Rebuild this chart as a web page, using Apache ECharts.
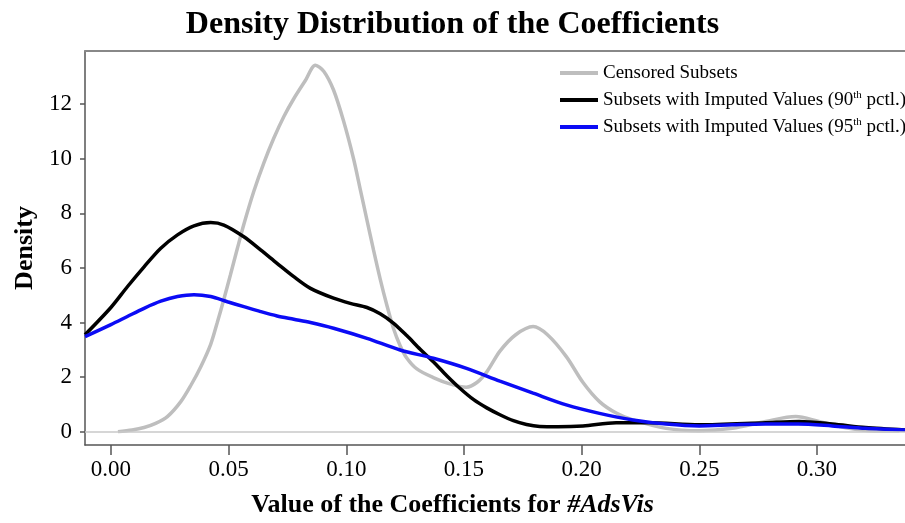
<!DOCTYPE html>
<html>
<head>
<meta charset="utf-8">
<title>Density Distribution of the Coefficients</title>
<script src="https://cdn.jsdelivr.net/npm/echarts@6/dist/echarts.min.js"></script>
<style>
    html, body { margin: 0; padding: 0; background: #fff; }
    #density-chart { width: 905px; height: 523px; }
</style>
</head>
<body>
<div id="density-chart"></div>
<script>
// values, [coefficient, density]
var censored = [
    [0.003, 0], [0.009, 0.06], [0.0141, 0.15], [0.019, 0.3], [0.024, 0.55], [0.0297, 1.1],
    [0.034, 1.7], [0.0382, 2.38], [0.0424, 3.2], [0.0452, 4.0], [0.048, 4.85], [0.0508, 5.75],
    [0.0537, 6.7], [0.0565, 7.6], [0.0607, 8.8], [0.065, 9.85], [0.0692, 10.75],
    [0.0735, 11.55], [0.0777, 12.2], [0.0825, 12.85], [0.0869, 13.43], [0.0905, 13.2],
    [0.0946, 12.52], [0.0988, 11.4], [0.1031, 10.0], [0.1059, 8.9], [0.1088, 7.75],
    [0.1116, 6.65], [0.1144, 5.6], [0.1172, 4.65], [0.12, 3.8], [0.1229, 3.15],
    [0.1257, 2.7], [0.13, 2.3], [0.137, 1.98], [0.144, 1.75], [0.151, 1.63],
    [0.1555, 1.8], [0.1598, 2.2], [0.1653, 2.95], [0.172, 3.55], [0.1794, 3.85],
    [0.1855, 3.55], [0.1935, 2.75], [0.2006, 1.8], [0.2076, 1.1], [0.2147, 0.68],
    [0.2218, 0.43], [0.2359, 0.12], [0.25, 0.03], [0.2641, 0.12], [0.2782, 0.37],
    [0.291, 0.55], [0.3008, 0.37], [0.3136, 0.12], [0.325, 0.02], [0.335, 0.02]
];
var imputed90 = [
    [-0.011, 3.55], [0, 4.55], [0.007, 5.31], [0.0141, 6.04], [0.0212, 6.72], [0.0283, 7.21],
    [0.0353, 7.54], [0.0424, 7.66], [0.048, 7.57], [0.0565, 7.14], [0.0636, 6.66],
    [0.0706, 6.17], [0.0777, 5.68], [0.0848, 5.25], [0.0946, 4.89], [0.1017, 4.7],
    [0.1088, 4.55], [0.1144, 4.32], [0.12, 3.98], [0.1257, 3.52], [0.1314, 3.02],
    [0.137, 2.56], [0.1427, 2.05], [0.1484, 1.58], [0.154, 1.18], [0.1597, 0.87],
    [0.1653, 0.62], [0.171, 0.4], [0.1766, 0.26], [0.1822, 0.19], [0.19, 0.18],
    [0.2006, 0.21], [0.2147, 0.33], [0.2288, 0.33], [0.25, 0.25], [0.2782, 0.33],
    [0.2924, 0.37], [0.3065, 0.28], [0.3206, 0.15], [0.3374, 0.06]
];
var imputed95 = [
    [-0.011, 3.48], [0, 3.92], [0.007, 4.22], [0.0141, 4.52], [0.0212, 4.78], [0.0283, 4.95],
    [0.0353, 5.02], [0.0424, 4.95], [0.0495, 4.76], [0.0565, 4.58], [0.0636, 4.4],
    [0.0706, 4.24], [0.0777, 4.12], [0.0848, 4.0], [0.0946, 3.79], [0.1088, 3.42],
    [0.1229, 2.99], [0.137, 2.69], [0.1511, 2.32], [0.1653, 1.85], [0.1794, 1.41],
    [0.1935, 0.98], [0.2076, 0.67], [0.2218, 0.43], [0.2359, 0.28], [0.25, 0.21],
    [0.264, 0.25], [0.278, 0.28], [0.292, 0.28], [0.3065, 0.21], [0.3206, 0.12],
    [0.3374, 0.06]
];
var seriesNames = [
    'Censored Subsets',
    'Subsets with Imputed Values (90th pctl.)',
    'Subsets with Imputed Values (95th pctl.)'
];
var xTicks = [0, 0.05, 0.10, 0.15, 0.20, 0.25, 0.30];
var yTicks = [0, 2, 4, 6, 8, 10, 12];

var serif = 'Liberation Serif, Times New Roman, serif';

function line(name, data, color) {
    return {
        name: name,
        type: 'line',
        data: data,
        smooth: 0.3,
        symbol: 'none',
        clip: true,
        lineStyle: { color: color, width: 3.5 },
        itemStyle: { color: color }
    };
}

var gray = line(seriesNames[0], censored, '#bebebe');
// horizontal reference at zero
gray.markLine = {
    silent: true,
    symbol: 'none',
    label: { show: false },
    lineStyle: { color: '#c8c8c8', width: 1.5, type: 'solid' },
    data: [{ yAxis: 0 }]
};

var option = {
    animation: false,
    title: [{
        text: 'Density Distribution of the Coefficients',
        left: 'center',
        top: 9,
        padding: 0,
        textStyle: { fontFamily: serif, fontSize: 32, fontWeight: 'bold', color: '#000' }
    }, {
        text: '{b|Value of the Coefficients for }{i|#AdsVis}',
        left: 'center',
        top: 492,
        padding: 0,
        textStyle: {
            rich: {
                b: { fontFamily: serif, fontSize: 26, fontWeight: 'bold', color: '#000' },
                i: { fontFamily: serif, fontSize: 26, fontWeight: 'bold', fontStyle: 'italic', color: '#000' }
            }
        }
    }],
    legend: {
        orient: 'vertical',
        left: 560,
        top: 63,
        padding: 0,
        icon: 'rect',
        itemWidth: 38,
        itemHeight: 4,
        itemGap: 7,
        itemStyle: { borderWidth: 0 },
        data: seriesNames,
        formatter: function (name) {
            return name.replace(/(\d+)th/, '$1{s|th}');
        },
        textStyle: {
            fontFamily: serif,
            fontSize: 19,
            lineHeight: 20,
            color: '#000',
            rich: {
                s: { fontFamily: serif, fontSize: 11, color: '#000', verticalAlign: 'top' }
            }
        }
    },
    grid: { left: 85, top: 51, right: 0, bottom: 78 },
    xAxis: [{
        type: 'value',
        min: -0.011,
        max: 0.3374,
        splitLine: { show: false },
        axisLine: { show: true, onZero: false, lineStyle: { color: '#555', width: 1.5 } },
        axisTick: { show: true, length: 10, customValues: xTicks, lineStyle: { color: '#555', width: 1.5 } },
        axisLabel: {
            customValues: xTicks,
            margin: 13,
            fontFamily: serif,
            fontSize: 23,
            color: '#000',
            formatter: function (v) { return v.toFixed(2); }
        }
    }, {
        type: 'value',
        position: 'top',
        min: -0.011,
        max: 0.3374,
        splitLine: { show: false },
        axisLine: { show: true, onZero: false, lineStyle: { color: '#888', width: 2 } },
        axisTick: { show: false },
        axisLabel: { show: false }
    }],
    yAxis: {
        type: 'value',
        min: -0.49,
        max: 13.95,
        name: 'Density',
        nameLocation: 'middle',
        nameRotate: 90,
        nameGap: 46,
        nameTextStyle: { fontFamily: serif, fontSize: 26, fontWeight: 'bold', color: '#000' },
        splitLine: { show: false },
        axisLine: { show: true, onZero: false, lineStyle: { color: '#555', width: 1.5 } },
        axisTick: { show: true, length: 5, customValues: yTicks, lineStyle: { color: '#555', width: 1.5 } },
        axisLabel: {
            customValues: yTicks,
            margin: 13,
            fontFamily: serif,
            fontSize: 23,
            color: '#000'
        }
    },
    series: [
        gray,
        line(seriesNames[1], imputed90, '#000000'),
        line(seriesNames[2], imputed95, '#0b0bf5')
    ]
};

var myChart = echarts.init(document.getElementById('density-chart'));
myChart.setOption(option);
</script>
</body>
</html>
